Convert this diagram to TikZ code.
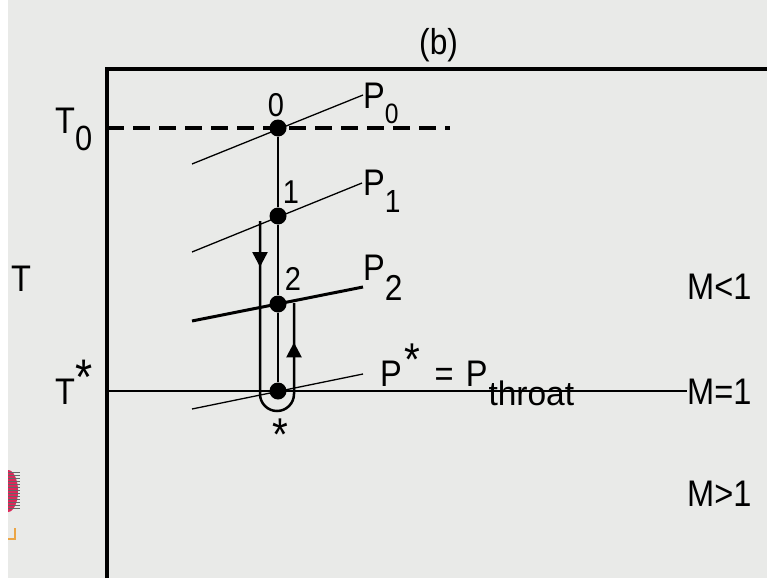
\documentclass[tikz,border=0pt]{standalone}
\usepackage{fontspec}
\setmainfont{Liberation Sans}[FakeStretch=0.88]
\usetikzlibrary{arrows.meta,decorations.markings}
\definecolor{slidebg}{RGB}{233,234,232}
\definecolor{logored}{RGB}{220,40,90}
\definecolor{logoorange}{RGB}{235,165,70}
\newcommand{\dropsub}[3]{\raisebox{-#1pt}{\fontsize{#2}{#2}\selectfont #3}}
\newcommand{\astk}[1]{{\fontsize{#1}{#1}\selectfont *}}

\begin{document}
\begin{tikzpicture}[x=1pt, y=-1pt,
    lab/.style={inner sep=0pt, anchor=base west, font=\fontsize{37}{39}\selectfont},
    num/.style={inner sep=0pt, anchor=base, font=\fontsize{33}{35}\selectfont},
    state/.style={circle, fill=black, inner sep=0pt, minimum size=17pt},
    isobar/.style={line width=1.3pt},
    frame/.style={line width=3.2pt},
    uturn/.style={line width=2.5pt, postaction={decorate}, decoration={markings,
        mark=at position 46pt with {\arrow{Triangle[width=15pt,length=15pt]}},
        mark=at position 278pt with {\arrow{Triangle[width=15pt,length=15pt]}}}}]

    \fill[white] (0,0) rectangle (767,578);
    \fill[slidebg] (8,0) rectangle (767,578);
    \useasboundingbox (0,0) rectangle (767,578);

    % logo edge
    \begin{scope}
        \clip (8,465) rectangle (20,515);
        \fill[logored] (8,491) ellipse [x radius=10, y radius=21];
        \foreach \yy in {472,475,...,510}
            \draw[black!60, line width=0.6pt] (8,\yy) -- (20,\yy);
    \end{scope}
    \draw[logoorange, line width=2.5pt] (8,539) -- (16,539) (15,528) -- (15,539);

    \draw[frame] (107,578) -- (107,69) -- (767,69);
    \node[lab, font=\fontsize{36}{38}\selectfont] (title) at (419,54) {(b)};

    \coordinate (t0l) at (107,128);
    \coordinate (t0r) at (450,128);
    \coordinate (tsl) at (107,391);

    \node[state] (s0) at (278,128) {};
    \node[state] (s1) at (278,216) {};
    \node[state] (s2) at (278,304) {};
    \node[state] (s3) at (278,391) {};

    \coordinate (p0w) at (192,164);
    \coordinate (p0e) at (363,95);
    \coordinate (p1w) at (192,252);
    \coordinate (p1e) at (362,183);
    \coordinate (p2w) at (192,321);
    \coordinate (p2e) at (363,287);
    \coordinate (p3w) at (192,409);
    \coordinate (p3e) at (363,374);

    \node[lab] (m0) at (687,299) {M<1};
    \node[lab] (m1) at (687,404) {M=1};
    \node[lab] (m2) at (687,506) {M>1};

    \draw[line width=4pt, dash pattern=on 17pt off 9pt] (t0l) -- (t0r);
    \draw[line width=1.6pt] (tsl) -- (tsl -| m1.west);

    \draw[isobar] (p0w) -- (p0e);
    \draw[isobar] (p1w) -- (p1e);
    \draw[isobar, line width=3pt] (p2w) -- (p2e);
    \draw[isobar] (p3w) -- (p3e);

    \draw[line width=2pt] (s0) -- (s1) -- (s2) -- (s3);
    \draw[uturn] (260,221) -- (260,394) arc[start angle=180, end angle=0, radius=17] -- (294,303);

    \node[lab] (lt0) at (55,133) {T\dropsub{17}{35}{0}};
    \node[lab] (lt) at (11,291) {T};
    \node[lab] (lts) at (55,404) {T\raisebox{10pt}{\astk{50}}};

    \node[num] (n0) at (276,116) {0};
    \node[num] (n1) at (291,203) {1};
    \node[num] (n2) at (293,290) {2};
    \node[num, font=\fontsize{46}{46}\selectfont] (nstar) at (280,450) {*};

    \node[lab] (lp0) at (363,108) {P\dropsub{15}{28}{0}};
    \node[lab] (lp1) at (363,195) {P\dropsub{17}{32}{1}};
    \node[lab] (lp2) at (363,280) {P\dropsub{20}{36}{2}};
    \node[lab] (lp3) at (380,386) {P\hspace{3pt}\raisebox{11pt}{\astk{46}}\hspace{5pt} =\hspace{3pt} P\hspace{1pt}\dropsub{19}{34}{\scalebox{1.12}[1]{throat}}};
\end{tikzpicture}
\end{document}
